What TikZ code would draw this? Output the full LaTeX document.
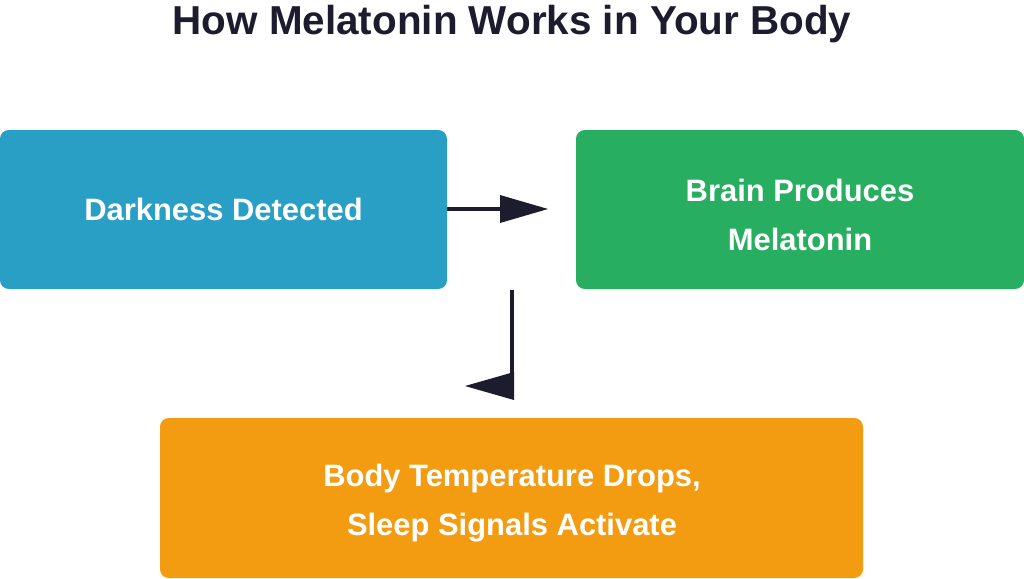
\documentclass[tikz,border=0pt]{standalone}
\usepackage{fontspec}
\setmainfont{Liberation Sans}
\definecolor{bl}{HTML}{2A9FC6}
\definecolor{gr}{HTML}{27AE60}
\definecolor{orn}{HTML}{F39C12}
\definecolor{dk}{HTML}{1C1C2E}
\begin{document}
\begin{tikzpicture}[x=0.02cm,y=-0.02cm,
 boxst/.style={rounded corners=5pt,text=white,font=\bfseries\fontsize{17.6}{28}\selectfont,align=center},
 lnst/.style={draw=dk,line width=2.2pt}]
\useasboundingbox (0,0) rectangle (1024,578);
\node[font=\bfseries\fontsize{23}{28}\selectfont,text=dk] (title) at (512,24) {How Melatonin Works in Your Body};
\fill[bl,rounded corners=5pt] (0,130) rectangle (447,289);
\node[boxst] (a) at (223.5,209.5) {Darkness Detected};
\fill[gr,rounded corners=5pt] (576,130) rectangle (1024,289);
\node[boxst] (b) at (800,215) {Brain Produces\\Melatonin};
\fill[orn,rounded corners=5pt] (160,418) rectangle (863,578);
\node[boxst] (c) at (512,503) {Body Temperature Drops,\\Sleep Signals Activate};
\coordinate (a1) at (447,209);
\coordinate (a2) at (502,209);
\draw[lnst] (a1) -- (a2);
\fill[dk] (500,195) -- (548,209) -- (500,223) -- cycle;
\coordinate (v1) at (512,290);
\coordinate (v2) at (512,386);
\draw[lnst] (v1) -- (v2);
\fill[dk] (465,386) -- (514,372) -- (514,400) -- cycle;
\end{tikzpicture}
\end{document}
